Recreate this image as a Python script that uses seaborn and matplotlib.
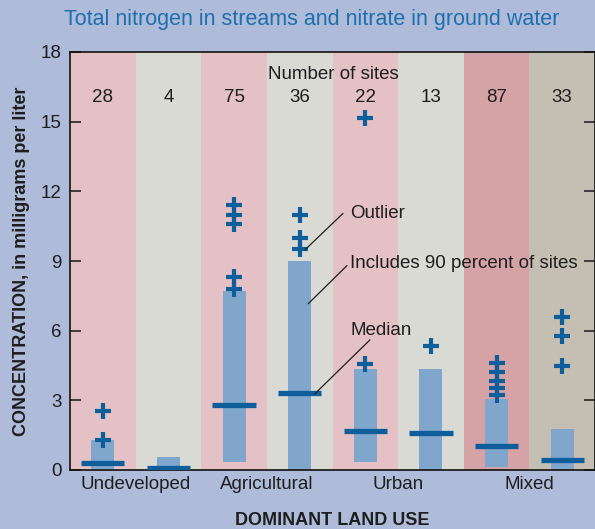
import numpy as np
import matplotlib.pyplot as plt
import seaborn as sns
import pandas as pd

# values
site_counts = [28, 4, 75, 36, 22, 13, 87, 33]
bar_low = [0.0, 0.0, 0.35, 0.0, 0.35, 0.0, 0.15, 0.0]
bar_high = [1.3, 0.55, 7.7, 9.0, 4.35, 4.35, 3.05, 1.75]
medians = [0.3, 0.08, 2.8, 3.3, 1.7, 1.6, 1.05, 0.45]
outlier_group = [0, 0, 2, 2, 2, 2, 2, 3, 3, 3, 4, 4, 5, 6, 6, 6, 6, 6, 7, 7, 7]
outlier_value = [2.55, 1.3, 11.4, 11.0, 10.6, 8.3, 7.8, 11.0, 10.0, 9.5, 15.15, 4.55,
                 5.35, 4.6, 4.2, 3.85, 3.55, 3.25, 6.6, 5.75, 4.5]
land_use = ['Undeveloped', 'Agricultural', 'Urban', 'Mixed']
band_colors = ['#e3c1c4', '#d9dad4', '#e3c1c4', '#d9dad4',
               '#e3c1c4', '#d9dad4', '#d5a2a5', '#c4bfb2']

bg = '#aebcda'
bar_color = '#80a7cb'
dark_blue = '#0f5e9c'
txt = '#1e1e1e'

sns.set_style('white')
plt.rcParams['font.family'] = ['Liberation Sans', 'DejaVu Sans']

fig = plt.figure(figsize=(5.95, 5.29), dpi=100, facecolor=bg)
ax = fig.add_axes([70/595, 1-470/529, 1-70/595, (470-52)/529])

for i, c in enumerate(band_colors):
    ax.axvspan(i-0.5, i+0.5, color=c, lw=0, zorder=0)

x = np.arange(len(site_counts))
ax.bar(x, np.array(bar_high)-np.array(bar_low), bottom=bar_low, width=0.35,
       color=bar_color, edgecolor='none', linewidth=0, zorder=2)
ax.hlines(medians, x-0.33, x+0.33, color=dark_blue, lw=3.8, zorder=3)

outliers = pd.DataFrame({'group': outlier_group, 'value': outlier_value})
sns.scatterplot(data=outliers, x='group', y='value', marker='+', s=130,
                linewidth=3, color=dark_blue, ax=ax, zorder=4)

for i, n in enumerate(site_counts):
    ax.text(i, 16.05, str(n), ha='center', va='center', fontsize=13.5, color=txt)
ax.text(3.51, 17.05, 'Number of sites', ha='center', va='center', fontsize=13.5, color=txt)

# callouts
ax.plot([3.08, 3.66], [9.48, 11.05], color=txt, lw=0.9, zorder=5)
ax.text(3.77, 11.05, 'Outlier', ha='left', va='center', fontsize=13.5, color=txt)
ax.plot([3.13, 3.72], [7.16, 8.8], color=txt, lw=0.9, zorder=5)
ax.text(3.77, 8.88, 'Includes 90 percent of sites', ha='left', va='center', fontsize=13.5, color=txt)
ax.plot([3.23, 4.07], [3.28, 5.6], color=txt, lw=0.9, zorder=5)
ax.text(3.77, 6.0, 'Median', ha='left', va='center', fontsize=13.5, color=txt)

ax.set_xlim(-0.5, 7.5)
ax.set_ylim(0, 18)
ax.set_yticks(range(0, 19, 3))
ax.set_xticks([0.5, 2.5, 4.5, 6.5])
ax.set_xticklabels(land_use, fontsize=13.5, color=txt)
ax.tick_params(axis='x', length=0, pad=4)
ax.tick_params(axis='y', direction='in', length=8, width=1.2, left=True, right=True,
               labelsize=13.5, labelcolor=txt, pad=6)
ax.set_xlabel('DOMINANT LAND USE', fontsize=13, fontweight='bold', labelpad=14, color=txt)
ax.set_ylabel('CONCENTRATION, in milligrams per liter', fontsize=13, fontweight='bold',
              labelpad=8, color=txt)
for s in ax.spines.values():
    s.set_color('#111111')
    s.set_linewidth(1.2)

fig.text(0.524, 1-20/529, 'Total nitrogen in streams and nitrate in ground water',
         ha='center', va='center', fontsize=15.5, color='#1f6fae')

fig.savefig('out.png', dpi=100, facecolor=bg)
